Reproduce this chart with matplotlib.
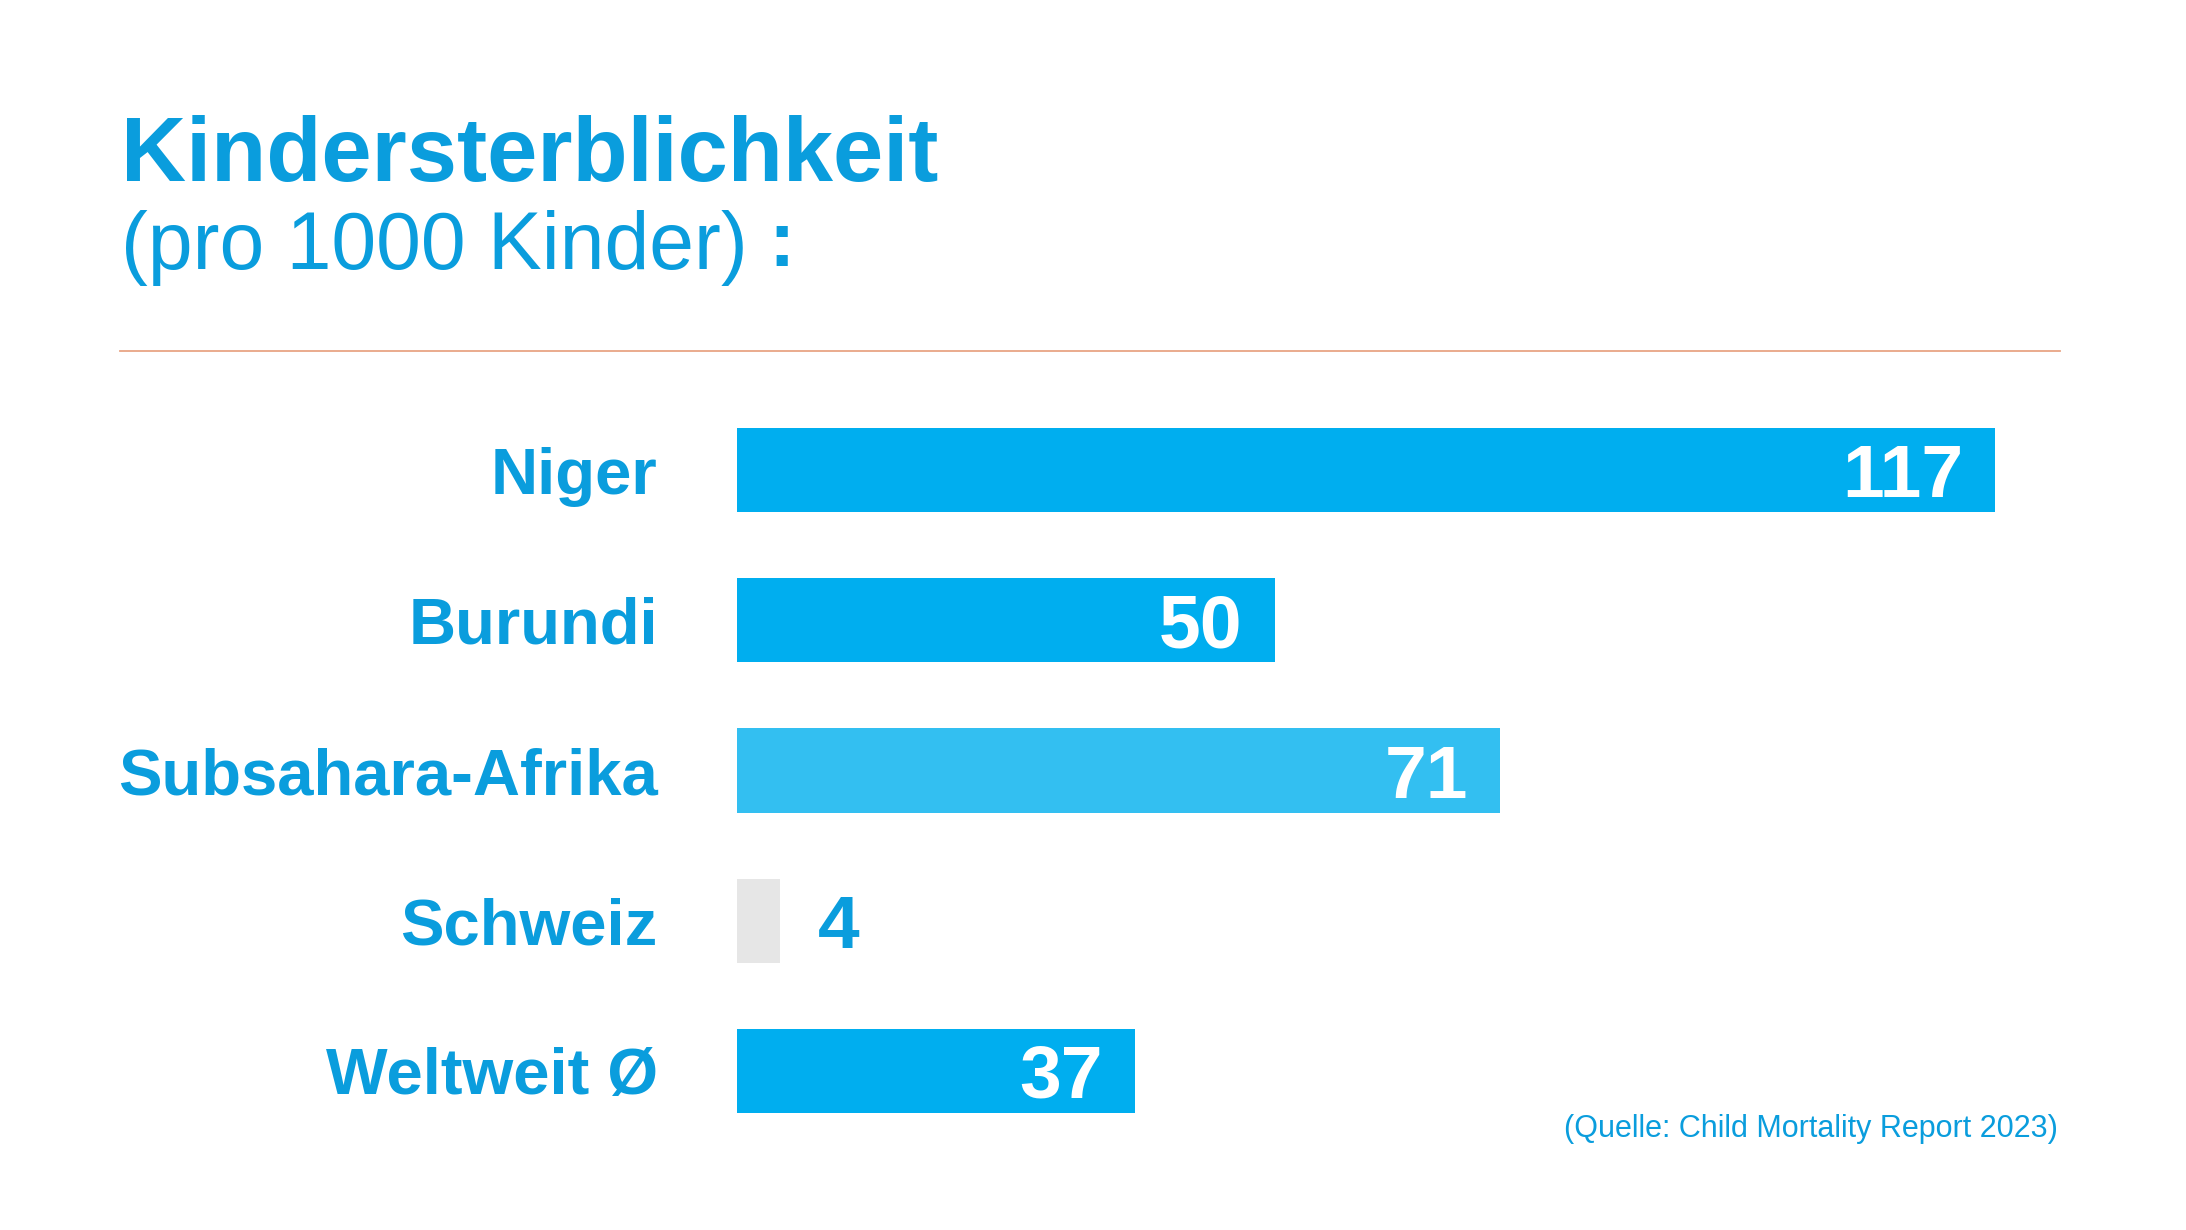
import numpy as np
import matplotlib.pyplot as plt
from matplotlib.lines import Line2D

plt.rcParams['font.family'] = ['Liberation Sans', 'DejaVu Sans']

categories = ['Niger', 'Burundi', 'Subsahara-Afrika', 'Schweiz', 'Weltweit Ø']
values = [117, 50, 71, 4, 37]
bar_colors = ['#00AEEF', '#00AEEF', '#33BFF1', '#E6E6E6', '#00AEEF']

TEXT_BLUE = '#0A9DDD'
W, H = 2186, 1230


def fx(px):
	return px / W


def fy(py):
	return 1 - py / H


def main():
	fig = plt.figure(figsize=(W / 100, H / 100), dpi=100)
	fig.patch.set_facecolor('white')

	# title block
	fig.text(fx(121), fy(181), 'Kindersterblichkeit', fontsize=65, fontweight='bold',
		color=TEXT_BLUE, va='baseline', ha='left')
	fig.text(fx(121), fy(269), '(pro 1000 Kinder)', fontsize=58,
		color=TEXT_BLUE, va='baseline', ha='left')
	fig.text(fx(768), fy(266), ':', fontsize=57, fontweight='bold',
		color=TEXT_BLUE, va='baseline', ha='left')

	fig.add_artist(Line2D([fx(120), fx(2060)], [fy(351), fy(351)], color='#E8A585', lw=1.3))

	# bars
	ax = fig.add_axes([fx(737), fy(1146), fx(1995) - fx(737), (1146 - 395) / H])
	y = np.arange(len(categories))
	ax.barh(y, values, height=0.56, color=bar_colors, edgecolor='none')
	ax.set_xlim(0, max(values))
	ax.set_ylim(len(categories) - 0.5, -0.5)

	ax.set_yticks(y)
	ax.set_yticklabels(categories, fontsize=47, fontweight='bold', color=TEXT_BLUE)
	ax.tick_params(axis='y', length=0, pad=57)
	ax.set_xticks([])
	for s in ax.spines.values():
		s.set_visible(False)

	for yi, v in zip(y, values):
		if v >= 20:
			ax.annotate(str(v), (v, yi), xytext=(-23, 0), textcoords='offset points',
				ha='right', va='center_baseline', fontsize=54, fontweight='bold', color='white')
		else:
			ax.annotate(str(v), (v, yi), xytext=(27, 0), textcoords='offset points',
				ha='left', va='center_baseline', fontsize=54, fontweight='bold', color=TEXT_BLUE)

	fig.text(fx(2058), fy(1137), '(Quelle: Child Mortality Report 2023)', fontsize=22,
		color=TEXT_BLUE, ha='right', va='baseline')

	fig.savefig('out.png', dpi=100, facecolor='white')


if __name__ == "__main__":
	main()
